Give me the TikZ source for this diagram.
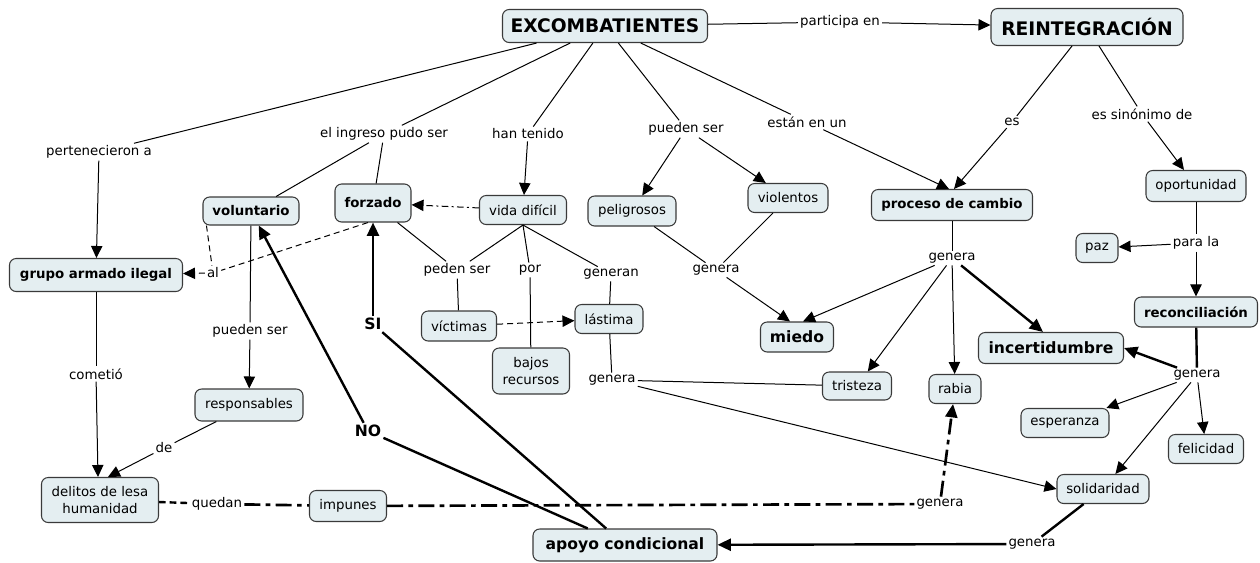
\documentclass[tikz,border=0pt]{standalone}
\usepackage{fontspec}
\setmainfont{DejaVu Sans}
\usetikzlibrary{arrows.meta,calc}
\definecolor{boxfill}{HTML}{E4EEF1}
\definecolor{boxline}{HTML}{3A3A3A}
\begin{document}
\begin{tikzpicture}[x=0.75pt,y=-0.75pt,
  sz/.style 2 args={minimum width=#1*0.75pt, minimum height=#2*0.75pt},
  box/.style={draw=boxline, fill=boxfill, rounded corners=5pt, line width=0.8pt, inner sep=0pt, align=center, font=\fontsize{10}{12.5}\selectfont},
  bbox/.style={box, font=\fontsize{10}{12.5}\selectfont\bfseries},
  mbox/.style={box, font=\fontsize{11.7}{14}\selectfont\bfseries},
  hbox/.style={box, font=\fontsize{14}{16}\selectfont\bfseries},
  lbl/.style={inner sep=1.5pt, font=\fontsize{10}{12}\selectfont},
  yn/.style={inner sep=1.5pt, font=\fontsize{11.7}{14}\selectfont\bfseries},
  ln/.style={draw=black, line width=0.75pt},
  arr/.style={ln, -{Triangle[length=9pt,width=8.5pt]}},
  thk/.style={draw=black, line width=1.8pt},
  thkarr/.style={thk, -{Triangle[length=10pt,width=9pt]}},
  dsh/.style={ln, dash pattern=on 4.5pt off 3pt},
  dashdot/.style={ln, dash pattern=on 5pt off 2.5pt on 1.5pt off 2.5pt},
  dq/.style={draw=black, line width=1.8pt, dash pattern=on 5pt off 3pt},
  dd/.style={draw=black, line width=2pt, dash pattern=on 12pt off 4pt on 3.5pt off 4pt}
]
\useasboundingbox (0,0) rectangle (1260,562);

% concept nodes
\node[hbox, sz={205}{33}] (exc) at (605,26) {EXCOMBATIENTES};
\node[hbox, sz={192}{37}] (rei) at (1087,27) {REINTEGRACIÓN};
\node[bbox, sz={173}{33}] (gru) at (96,275) {grupo armado ilegal};
\node[bbox, sz={96}{28}] (vol) at (251,211) {voluntario};
\node[bbox, sz={76}{38}] (for) at (373,203) {forzado};
\node[box, sz={87}{29}] (vid) at (523,210) {vida difícil};
\node[box, sz={88}{30}] (pel) at (632,211) {peligrosos};
\node[box, sz={80}{29}] (vio) at (788,198) {violentos};
\node[bbox, sz={161}{31}] (pro) at (952,205) {proceso de cambio};
\node[box, sz={100}{31}] (opo) at (1196,186) {oportunidad};
\node[box, sz={42}{29}] (paz) at (1097,248) {paz};
\node[bbox, sz={123}{30}] (rec) at (1196,312) {reconciliación};
\node[mbox, sz={145}{31}] (inc) at (1051,348) {incertidumbre};
\node[mbox, sz={73}{30}] (mie) at (797,337) {miedo};
\node[box, sz={69}{28}] (tri) at (857,386) {tristeza};
\node[box, sz={52}{29}] (rab) at (955,389) {rabia};
\node[box, sz={75}{30}] (vic) at (459,326) {víctimas};
\node[box, sz={68}{29}] (las) at (609,319) {lástima};
\node[box, sz={77}{46}] (baj) at (531,371) {bajos\\recursos};
\node[box, sz={108}{32}] (res) at (249,405) {responsables};
\node[box, sz={117}{45}] (del) at (100,500) {delitos de lesa\\humanidad};
\node[box, sz={77}{31}] (imp) at (348,506) {impunes};
\node[mbox, sz={184}{32}] (apo) at (625,545) {apoyo condicional};
\node[box, sz={88}{29}] (esp) at (1065,423) {esperanza};
\node[box, sz={75}{29}] (fel) at (1206,449) {felicidad};
\node[box, sz={92}{29}] (sol) at (1103,489) {solidaridad};

% linking phrases
\node[lbl] (l1) at (840,22) {participa en};
\node[lbl] (l2) at (99,152) {pertenecieron a};
\node[lbl] (l3) at (384,134) {el ingreso pudo ser};
\node[lbl] (l4) at (528,134) {han tenido};
\node[lbl] (l5) at (686,129) {pueden ser};
\node[lbl] (l6) at (807,122) {están en un};
\node[lbl] (l7) at (1012,122) {es};
\node[lbl] (l8) at (1142,114) {es sinónimo de};
\node[lbl] (l9) at (1196,243) {para la};
\node[lbl] (l10) at (1197,375) {genera};
\node[lbl] (l11) at (952,258) {genera};
\node[lbl] (l12) at (716,270) {genera};
\node[lbl] (l13) at (457,270) {peden ser};
\node[lbl] (l14) at (530,270) {por};
\node[lbl] (l15) at (611,274) {generan};
\node[lbl] (l16) at (612,380) {genera};
\node[lbl] (l17) at (213,273) {al};
\node[lbl] (l18) at (250,331) {pueden ser};
\node[lbl] (l19) at (96,374) {cometió};
\node[lbl] (l20) at (164,448) {de};
\node[lbl] (l21) at (217,504) {quedan};
\node[lbl] (l22) at (940,504) {genera};
\node[lbl] (l23) at (1032,544) {genera};
\node[yn] (l24) at (373,324) {SI};
\node[yn] (l25) at (368,431) {NO};

% connectors
\draw[ln] (exc) -- (l1); \draw[arr] (l1) -- (rei);
\draw[ln] (exc) -- (l2); \draw[arr] (l2) -- (gru);
\draw[ln] (exc) -- (l3); \draw[ln] (l3) -- (vol); \draw[ln] (l3) -- (for);
\draw[ln] (exc) -- (l4); \draw[arr] (l4) -- (vid);
\draw[ln] (exc) -- (l5); \draw[arr] (l5) -- (pel); \draw[arr] (l5) -- (vio);
\draw[ln] (exc) -- (l6); \draw[arr] (l6) -- ($(pro.north)+(-3,0)$);
\draw[ln] (rei) -- (l7); \draw[arr] (l7) -- ($(pro.north)+(2,0)$);
\draw[ln] (rei) -- (l8); \draw[arr] (l8) -- (opo);
\draw[ln] (opo) -- (l9); \draw[arr] (l9) -- (paz); \draw[arr] (l9) -- (rec);
\draw[thk] (rec) -- (l10); \draw[thkarr] (l10) -- (inc.east);
\draw[arr] (l10) -- (esp); \draw[arr] (l10) -- (fel); \draw[arr] (l10) -- (sol);
\draw[ln] (pro) -- (l11); \draw[arr] (l11) -- ($(mie.north)+(6,0)$);
\draw[arr] (l11) -- (tri); \draw[arr] (l11) -- (rab);
\draw[thkarr] (l11) -- ($(inc.north)+(-8,0)$);
\draw[ln] (pel) -- (l12); \draw[ln] (vio) -- (l12); \draw[arr] (l12) -- ($(mie.north)+(-7,0)$);
\draw[dashdot, -{Triangle[length=9pt,width=8.5pt]}] (vid) -- (for);
\draw[ln] (for) -- (l13); \draw[ln] (vid.south) -- (l13); \draw[ln] (l13) -- (vic);
\draw[ln] (vid.south) -- (l14); \draw[ln] (l14) -- (baj);
\draw[ln] (vid.south) -- (l15); \draw[ln] (l15) -- (las);
\draw[dsh, -{Triangle[length=9pt,width=8.5pt]}] (vic) -- (las);
\draw[ln] (las) -- (l16); \draw[ln] (l16) -- (tri); \draw[arr] (l16) -- (sol.west);
\draw[dsh] ($(vol.south west)+(4,0)$) -- (l17);
\draw[dsh] ($(for.south)+(-5,0)$) -- (l17);
\draw[dsh, -{Triangle[length=9pt,width=8.5pt]}] (l17) -- (gru);
\draw[ln] (vol) -- (l18); \draw[arr] (l18) -- (res);
\draw[ln] (gru) -- (l19); \draw[arr] (l19) -- ($(del.north)+(-2,0)$);
\draw[ln] (res) -- (l20); \draw[arr] (l20) -- ($(del.north)+(8,0)$);
\draw[dq] (del) -- (l21); \draw[dd] (l21) -- (imp); \draw[dd] (imp) -- (l22);
\draw[dd, -{Triangle[length=10pt,width=9pt]}] (l22) -- (rab);
\draw[thk] (sol) -- (l23); \draw[thkarr] (l23) -- (apo);
\draw[thk] (apo) -- (l24); \draw[thkarr] (l24) -- (for);
\draw[thk] (apo) -- (l25); \draw[thkarr] (l25) -- (vol);
\end{tikzpicture}
\end{document}
